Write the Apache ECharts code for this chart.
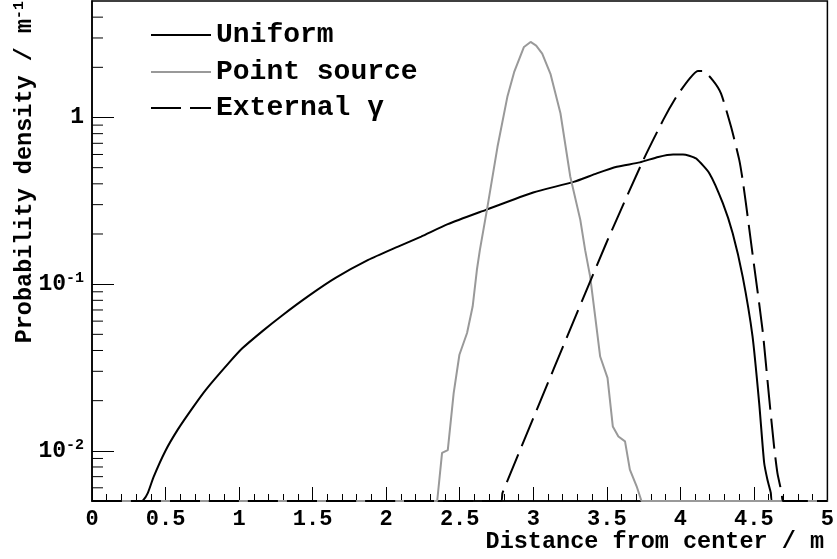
<!DOCTYPE html>
<html>
<head>
<meta charset="utf-8">
<script src="https://cdn.jsdelivr.net/npm/echarts@6/dist/echarts.min.js"></script>
<style>
  html, body { margin: 0; padding: 0; background: #fff; }
  #chart { width: 837px; height: 559px; }
</style>
</head>
<body>
<div id="chart"></div>
<script>
// Radial distance distributions (probability density per metre)
const uniformX = [0, 0.33, 0.347, 0.38, 0.419, 0.498, 0.583, 0.684, 0.775, 0.932, 1.022, 1.157, 1.293, 1.473, 1.653, 1.878, 2.081, 2.238, 2.419, 2.678, 3.0, 3.275, 3.432, 3.568, 3.725, 3.85, 3.951, 4.018, 4.06, 4.108, 4.198, 4.289, 4.356, 4.424, 4.491, 4.536, 4.570, 4.592, 4.615, 4.626, 5.0];
const uniformY = [0, 0, 0.00504, 0.0056, 0.00698, 0.00995, 0.0134, 0.0181, 0.0233, 0.0338, 0.0412, 0.0521, 0.0649, 0.0850, 0.1086, 0.1397, 0.168, 0.193, 0.229, 0.279, 0.355, 0.411, 0.462, 0.506, 0.538, 0.58, 0.60, 0.60, 0.59, 0.567, 0.462, 0.306, 0.202, 0.111, 0.0486, 0.0194, 0.00848, 0.00673, 0.0056, 0, 0];

const pointX = [0, 2.347, 2.380, 2.419, 2.459, 2.498, 2.550, 2.588, 2.617, 2.637, 2.689, 2.757, 2.824, 2.870, 2.937, 2.982, 3.02, 3.061, 3.117, 3.185, 3.252, 3.320, 3.353, 3.387, 3.421, 3.455, 3.505, 3.541, 3.579, 3.624, 3.657, 3.703, 3.736, 5.0];
const pointY = [0, 0, 0.00973, 0.0101, 0.0222, 0.0377, 0.0509, 0.0734, 0.122, 0.160, 0.292, 0.667, 1.33, 1.87, 2.65, 2.84, 2.7, 2.42, 1.83, 1.06, 0.441, 0.243, 0.160, 0.111, 0.064, 0.0368, 0.0274, 0.0140, 0.0122, 0.0114, 0.00772, 0.00613, 0, 0];

const externalX = [0, 2.78, 2.791, 3.489, 3.748, 3.883, 3.973, 4.063, 4.119, 4.153, 4.221, 4.277, 4.345, 4.401, 4.424, 4.446, 4.491, 4.559, 4.603, 4.637, 4.660, 4.689, 4.70, 5.0];
const externalY = [0, 0, 0.0056, 0.17, 0.555, 0.964, 1.33, 1.71, 1.90, 1.90, 1.67, 1.39, 0.879, 0.555, 0.421, 0.305, 0.152, 0.0532, 0.0212, 0.0107, 0.00738, 0.0056, 0, 0];

// Axis settings
const Y_MIN = 0.005;
const Y_MAX = 5;
const X_MIN = 0;
const X_MAX = 5;
const X_STEP = 0.5;
const yMinorTicks = [0.006, 0.007, 0.008, 0.009,
  0.02, 0.03, 0.04, 0.05, 0.06, 0.07, 0.08, 0.09,
  0.2, 0.3, 0.4, 0.5, 0.6, 0.7, 0.8, 0.9,
  2, 3, 4];

const FONT = '"Liberation Mono", "DejaVu Sans Mono", monospace';

// Empty bins sit on the lower edge of the log axis
function toPoints(xs, ys) {
  return xs.map((x, i) => [x, Math.max(ys[i], Y_MIN)]);
}

function yLabel(v) {
  const e = Math.log10(v);
  const r = Math.round(e);
  if (Math.abs(e - r) > 1e-6) return '';
  if (r === 0) return '1';
  if (r === 1) return '10';
  return '10{s|' + r + '}';
}

const chart = echarts.init(document.getElementById('chart'), null, { renderer: 'canvas' });

const lineBase = { type: 'line', symbol: 'none', showSymbol: false, animation: false, z: 3 };

chart.setOption({
  backgroundColor: '#fff',
  animation: false,
  grid: {
    left: 92, right: 5, top: 1, bottom: 58,
    show: true, borderColor: '#000', borderWidth: 1.5, backgroundColor: 'transparent'
  },
  legend: [
    { data: ['Uniform'], left: 150, top: 21 },
    { data: ['Point source'], left: 150, top: 58 },
    { data: ['External γ'], left: 150, top: 94 }
  ].map(l => Object.assign(l, {
    orient: 'vertical', padding: 0, itemWidth: 60, itemHeight: 24, itemGap: 0,
    itemTextGap: 18, selectedMode: false,
    itemStyle: { opacity: 0 },
    textStyle: { fontFamily: FONT, fontWeight: 'bold', fontSize: 28, color: '#000', lineHeight: 24 }
  })),
  xAxis: {
    type: 'value', min: X_MIN, max: X_MAX, interval: X_STEP,
    axisLine: { show: true, onZero: false, lineStyle: { color: '#000', width: 1.5 } },
    axisTick: { show: true, inside: true, length: 14, lineStyle: { color: '#000', width: 1 } },
    minorTick: { show: true, splitNumber: 5, length: 7, lineStyle: { color: '#000', width: 1 } },
    splitLine: { show: false },
    axisLabel: {
      margin: 7, color: '#000', fontFamily: FONT, fontWeight: 'bold', fontSize: 22,
      formatter: v => String(v)
    }
  },
  yAxis: {
    type: 'log', logBase: 10, min: Y_MIN, max: Y_MAX,
    axisLine: { show: true, onZero: false, lineStyle: { color: '#000', width: 1.5 } },
    axisTick: { show: true, inside: true, length: 22, lineStyle: { color: '#000', width: 1 } },
    minorTick: { show: false },
    splitLine: { show: false },
    axisLabel: {
      margin: 8, color: '#000', fontFamily: FONT, fontWeight: 'bold', fontSize: 23,
      showMinLabel: false, showMaxLabel: false,
      formatter: yLabel,
      rich: {
        s: { fontFamily: FONT, fontWeight: 'bold', fontSize: 15, color: '#000', padding: [0, 0, 12, 0] }
      }
    }
  },
  graphic: [
    {
      type: 'text', right: 13, top: 530,
      style: { text: 'Distance from center / m', font: 'bold 23.5px ' + FONT, fill: '#000' }
    },
    {
      type: 'text', x: 25, y: 1, rotation: Math.PI / 2,
      style: {
        text: 'Probability density / m{s|-1}',
        font: 'bold 23.5px ' + FONT, fill: '#000',
        align: 'right', verticalAlign: 'middle',
        rich: {
          s: { font: 'bold 15px ' + FONT, fill: '#000', padding: [0, 0, 12, 0] }
        }
      }
    }
  ],
  series: [
    Object.assign({}, lineBase, {
      name: 'Uniform', data: toPoints(uniformX, uniformY), smooth: 0.2,
      lineStyle: { color: '#000', width: 2 }, itemStyle: { color: '#000' }
    }),
    Object.assign({}, lineBase, {
      name: 'Point source', data: toPoints(pointX, pointY), smooth: false,
      lineStyle: { color: '#999999', width: 2 }, itemStyle: { color: '#999999' }
    }),
    Object.assign({}, lineBase, {
      name: 'External γ', data: toPoints(externalX, externalY), smooth: 0.2,
      lineStyle: { color: '#000', width: 2, type: [30, 9] }, itemStyle: { color: '#000' }
    }),
    {
      // minor ticks at 2..9 of each decade on the log axis
      type: 'custom', silent: true, animation: false, z: 4,
      data: yMinorTicks.map(v => [X_MIN, v]),
      encode: { x: 0, y: 1 },
      renderItem: (params, api) => {
        const p = api.coord([api.value(0), api.value(1)]);
        return {
          type: 'line',
          shape: { x1: p[0], y1: p[1], x2: p[0] + 11, y2: p[1] },
          style: { stroke: '#000', lineWidth: 1 }
        };
      }
    }
  ]
});
</script>
</body>
</html>
